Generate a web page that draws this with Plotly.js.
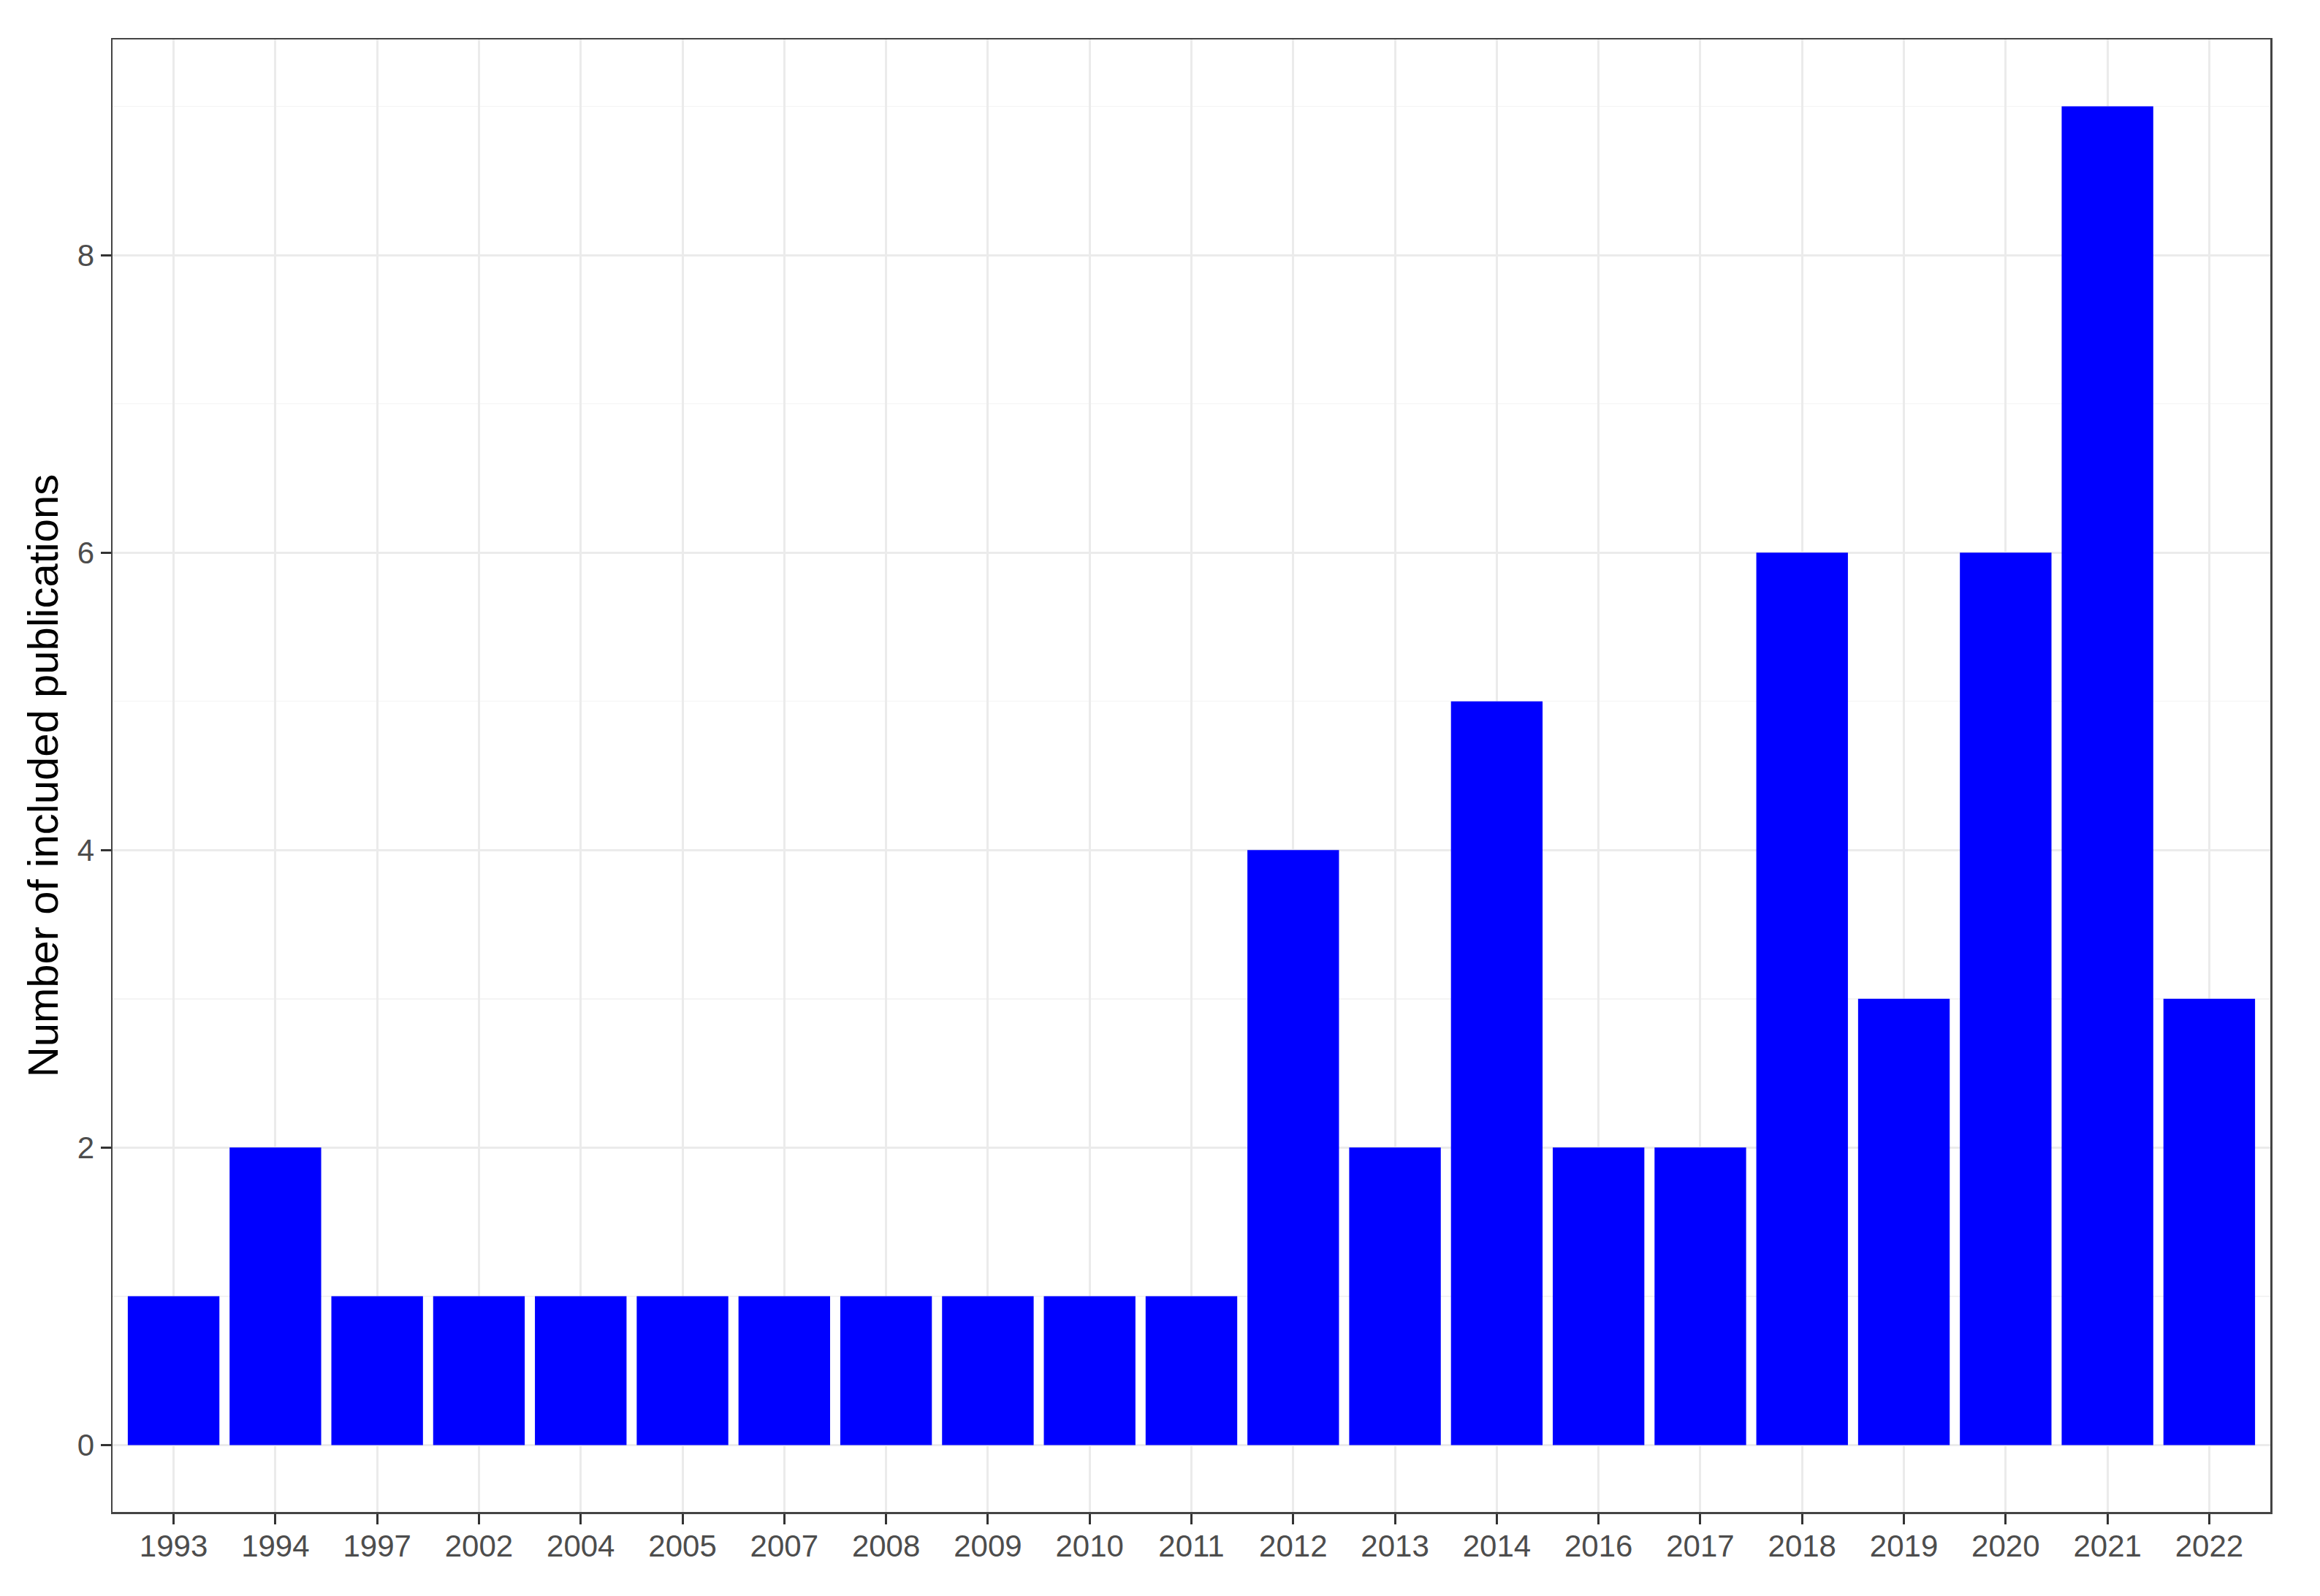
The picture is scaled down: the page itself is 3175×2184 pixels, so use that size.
<!DOCTYPE html>
<html>
<head>
<meta charset="utf-8">
<script src="https://cdn.plot.ly/plotly-3.0.1.min.js"></script>
<style>
  html, body { margin: 0; padding: 0; background: #ffffff; }
  #chart { width: 3175px; height: 2184px; }
</style>
</head>
<body>
<div id="chart"></div>
<script>
// Data
const years = ["1993", "1994", "1997", "2002", "2004", "2005", "2007", "2008", "2009", "2010", "2011",
               "2012", "2013", "2014", "2016", "2017", "2018", "2019", "2020", "2021", "2022"];
const publications = [1, 2, 1, 1, 1, 1, 1, 1, 1, 1, 1,
                      4, 2, 5, 2, 2, 6, 3, 6, 9, 3];
const yTickValues = [0, 2, 4, 6, 8];
const yAxisTitle = "Number of included publications";

const trace = {
  type: "bar",
  x: years,
  y: publications,
  marker: { color: "#0000FF", line: { width: 0 } },
  hoverinfo: "x+y"
};

const fontFamily = "Liberation Sans, Arial, sans-serif";

const layout = {
  width: 3175,
  height: 2184,
  paper_bgcolor: "#ffffff",
  plot_bgcolor: "#ffffff",
  margin: { l: 154, r: 68, t: 54, b: 115, pad: 0 },
  showlegend: false,
  bargap: 0.1,
  font: { family: fontFamily, color: "#4D4D4D" },
  xaxis: {
    type: "category",
    range: [-0.6, 20.6],
    showgrid: true,
    gridcolor: "#EBEBEB",
    gridwidth: 3,
    showline: true,
    mirror: true,
    linecolor: "#444444",
    linewidth: 2.5,
    ticks: "outside",
    ticklen: 14,
    tickwidth: 3,
    tickcolor: "#333333",
    ticklabelstandoff: -6,
    tickfont: { family: fontFamily, size: 42, color: "#4D4D4D" },
    zeroline: false,
    automargin: false
  },
  yaxis: {
    range: [-0.45, 9.45],
    tickvals: yTickValues,
    ticktext: yTickValues.map(String),
    showgrid: true,
    gridcolor: "#EBEBEB",
    gridwidth: 3,
    minor: { dtick: 1, tick0: 0, showgrid: true, gridcolor: "#F4F4F4", gridwidth: 1.5, ticks: "" },
    showline: true,
    mirror: true,
    linecolor: "#444444",
    linewidth: 2.5,
    ticks: "outside",
    ticklen: 14,
    tickwidth: 3,
    tickcolor: "#333333",
    tickfont: { family: fontFamily, size: 42, color: "#4D4D4D" },
    zeroline: false,
    automargin: false,
    title: {
      text: yAxisTitle,
      font: { family: fontFamily, size: 58, color: "#000000" },
      standoff: 8
    }
  }
};

Plotly.newPlot("chart", [trace], layout, { displayModeBar: false, staticPlot: true });
</script>
</body>
</html>
